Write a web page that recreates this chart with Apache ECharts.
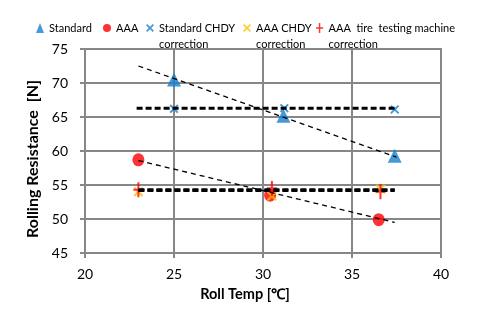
<!DOCTYPE html>
<html>
<head>
<meta charset="utf-8">
<script src="https://cdn.jsdelivr.net/npm/echarts@6/dist/echarts.min.js"></script>
<style>
  html, body { margin: 0; padding: 0; background: #fff; }
  #chart { width: 483px; height: 322px; }
</style>
</head>
<body>
<div id="chart"></div>
<script>
// Rolling resistance vs roll temperature: measured points, corrections and trend lines
var xTicks = [20, 25, 30, 35, 40];
var yTicks = [45, 50, 55, 60, 65, 70, 75];

var stdTemp = [25.0, 31.15, 37.4];
var stdRR = [70.5, 65.2, 59.3];

var aaaTemp = [23.0, 30.4, 36.5];
var aaaRR = [58.7, 53.5, 49.9];

var stdChdyTemp = [25.0, 31.2, 37.4];
var stdChdyRR = [66.2, 66.3, 66.1];

var aaaChdyTemp = [23.0, 30.5, 36.6];
var aaaChdyRR = [54.0, 53.4, 54.4];

var machineTemp = [23.0, 30.5, 36.6];
var machineRR = [54.3, 54.5, 54.0];

// trend line end points
var stdTrendTemp = [23.0, 37.5];
var stdTrendRR = [72.5, 59.1];
var aaaTrendTemp = [23.0, 37.4];
var aaaTrendRR = [58.6, 49.5];
var stdChdyTrendTemp = [22.9, 37.4];
var stdChdyTrendRR = [66.3, 66.3];
var aaaChdyTrendTemp = [23.0, 37.4];
var aaaChdyTrendRR = [54.2, 54.2];
var machineTrendTemp = [23.0, 37.4];
var machineTrendRR = [54.3, 54.3];

var names = ['Standard', 'AAA', 'Standard CHDY\ncorrection', 'AAA CHDY\ncorrection', 'AAA  tire  testing machine\ncorrection'];

function pairs(xs, ys) {
  return xs.map(function (x, i) { return [x, ys[i]]; });
}

var BLUE = '#1580d0';
var RED = '#ff0000';
var ORANGE = '#ffc000';
var GRID = '#878787';
var FONT = 'Lato, "Liberation Sans", sans-serif';

var crossPath = 'path://M0,1.5 L1.5,0 L5,3.5 L8.5,0 L10,1.5 L6.5,5 L10,8.5 L8.5,10 L5,6.5 L1.5,10 L0,8.5 L3.5,5 Z';
var plusPath = 'path://M4,0 L6,0 L6,6 L10,6 L10,8 L6,8 L6,14 L4,14 L4,8 L0,8 L0,6 L4,6 Z';

function trend(xs, ys, width, dash) {
  return {
    type: 'line',
    data: pairs(xs, ys),
    symbol: 'none',
    silent: true,
    z: 10,
    lineStyle: { color: '#000', width: width, type: dash },
    legendHoverLink: false
  };
}

// two-line entries get a blank leading line so the first line sits beside the icon
var legendLefts = [36, 103, 146, 243, 316];
var legends = names.map(function (n, i) {
  var twoLine = n.indexOf('\n') >= 0;
  return {
    left: legendLefts[i],
    top: twoLine ? 4 : 20,
    padding: 0,
    itemWidth: 8,
    itemHeight: 10,
    selectedMode: false,
    data: [n],
    formatter: function (name) { return twoLine ? ' \n' + name : name; },
    textStyle: {
      fontFamily: FONT,
      fontSize: 11,
      color: '#000',
      lineHeight: 16
    }
  };
});

var chart = echarts.init(document.getElementById('chart'), null, { renderer: 'canvas' });
chart.setOption({
  animation: false,
  backgroundColor: '#fff',
  legend: legends,
  grid: {
    left: 85, right: 42, top: 49, bottom: 69,
    show: true, borderColor: GRID, borderWidth: 2
  },
  xAxis: {
    type: 'value',
    min: xTicks[0], max: xTicks[xTicks.length - 1], interval: 5,
    name: 'Roll Temp [℃]',
    nameLocation: 'middle',
    nameGap: 34,
    nameTextStyle: { fontFamily: FONT, fontSize: 14.5, fontWeight: 'bold', color: '#000', padding: [0, 36, 0, 0] },
    axisLine: { show: true, lineStyle: { color: GRID, width: 2 } },
    axisTick: { show: true, length: 5, lineStyle: { color: GRID, width: 2 } },
    axisLabel: { fontFamily: FONT, fontSize: 14, color: '#000', margin: 14 },
    splitLine: { show: true, lineStyle: { color: GRID, width: 2 } }
  },
  yAxis: {
    type: 'value',
    min: yTicks[0], max: yTicks[yTicks.length - 1], interval: 5,
    name: 'Rolling Resistance  [N]',
    nameLocation: 'middle',
    nameGap: 44,
    nameRotate: 90,
    nameTextStyle: { fontFamily: FONT, fontSize: 16, fontWeight: 'bold', color: '#000', padding: [0, 16, 0, 0] },
    axisLine: { show: true, lineStyle: { color: GRID, width: 2 } },
    axisTick: { show: true, length: 5, lineStyle: { color: GRID, width: 2 } },
    axisLabel: { fontFamily: FONT, fontSize: 14, color: '#000', margin: 17 },
    splitLine: { show: true, lineStyle: { color: GRID, width: 2 } }
  },
  series: [
    { name: names[0], type: 'scatter', data: pairs(stdTemp, stdRR), symbol: 'triangle', symbolSize: [14, 14], itemStyle: { color: BLUE }, z: 3 },
    { name: names[1], type: 'scatter', data: pairs(aaaTemp, aaaRR), symbol: 'circle', symbolSize: [12, 13], itemStyle: { color: RED }, z: 3 },
    { name: names[2], type: 'scatter', data: pairs(stdChdyTemp, stdChdyRR), symbol: crossPath, symbolSize: 9, itemStyle: { color: BLUE }, z: 4 },
    { name: names[3], type: 'scatter', data: pairs(aaaChdyTemp, aaaChdyRR), symbol: crossPath, symbolSize: 10, itemStyle: { color: ORANGE }, z: 4 },
    { name: names[4], type: 'scatter', data: pairs(machineTemp, machineRR), symbol: plusPath, symbolSize: [10, 15], itemStyle: { color: RED }, z: 5 },
    trend(stdTrendTemp, stdTrendRR, 1.3, [5, 4]),
    trend(aaaTrendTemp, aaaTrendRR, 1.3, [5, 4]),
    trend(stdChdyTrendTemp, stdChdyTrendRR, 3, [6, 3]),
    trend(aaaChdyTrendTemp, aaaChdyTrendRR, 3, [6, 3]),
    trend(machineTrendTemp, machineTrendRR, 3, [6, 3])
  ]
});
</script>
</body>
</html>
